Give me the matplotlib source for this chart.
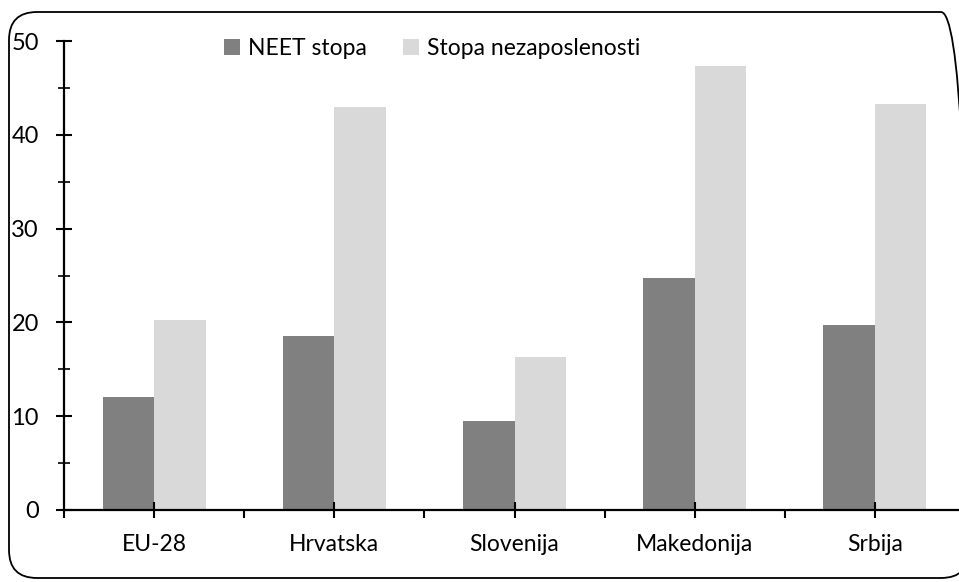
import matplotlib.pyplot as plt
import numpy as np
from matplotlib.patches import FancyBboxPatch
from matplotlib.ticker import MultipleLocator, FixedLocator

plt.rcParams['font.family'] = ['Lato', 'DejaVu Sans']

# data
countries = ['EU-28', 'Hrvatska', 'Slovenija', 'Makedonija', 'Srbija']
neet = [12.0, 18.5, 9.5, 24.7, 19.7]
unemployment = [20.3, 43.0, 16.3, 47.3, 43.3]
series_names = ['NEET stopa', 'Stopa nezaposlenosti']

fig = plt.figure(figsize=(9.59, 5.82), dpi=100)

# rounded frame around the chart (right side runs a bit past the image)
frame = FancyBboxPatch((0.09, 0.04), 9.6, 5.66,
                       boxstyle='round,pad=0,rounding_size=0.28',
                       transform=fig.dpi_scale_trans, fill=False,
                       edgecolor='black', linewidth=1.3)
fig.patches.append(frame)

ax = fig.add_axes([64 / 959, 72 / 582, 901 / 959, 469 / 582])

x = np.arange(len(countries))
w = 0.286
ax.bar(x - w / 2, neet, width=w, color='#808080', label=series_names[0])
ax.bar(x + w / 2, unemployment, width=w, color='#d9d9d9', label=series_names[1])

ax.set_xlim(-0.5, len(countries) - 0.5)
ax.set_ylim(0, 50)

for s in ['top', 'right']:
    ax.spines[s].set_visible(False)
ax.spines['left'].set_linewidth(1.6)
ax.spines['bottom'].set_linewidth(1.6)

ax.yaxis.set_major_locator(MultipleLocator(10))
ax.yaxis.set_minor_locator(MultipleLocator(5))
ax.tick_params(axis='y', which='major', direction='inout', length=12, width=1.5,
               labelsize=17, pad=12)
ax.tick_params(axis='y', which='minor', direction='inout', length=9, width=1.2)

ax.set_xticks(x)
ax.set_xticklabels(countries)
ax.xaxis.set_minor_locator(FixedLocator(np.arange(-0.5, len(countries), 1.0)))
ax.tick_params(axis='x', which='major', direction='inout', length=11, width=1.5,
               labelsize=16.5, pad=12)
ax.tick_params(axis='x', which='minor', direction='out', length=6, width=1.5)

ax.legend(loc='upper center', bbox_to_anchor=(368 / 901, 1.025), ncol=2, frameon=False,
          fontsize=16.5, handlelength=0.7, handleheight=0.7, handletextpad=0.35,
          columnspacing=1.6, borderaxespad=0)

fig.savefig('out.png', dpi=100)
